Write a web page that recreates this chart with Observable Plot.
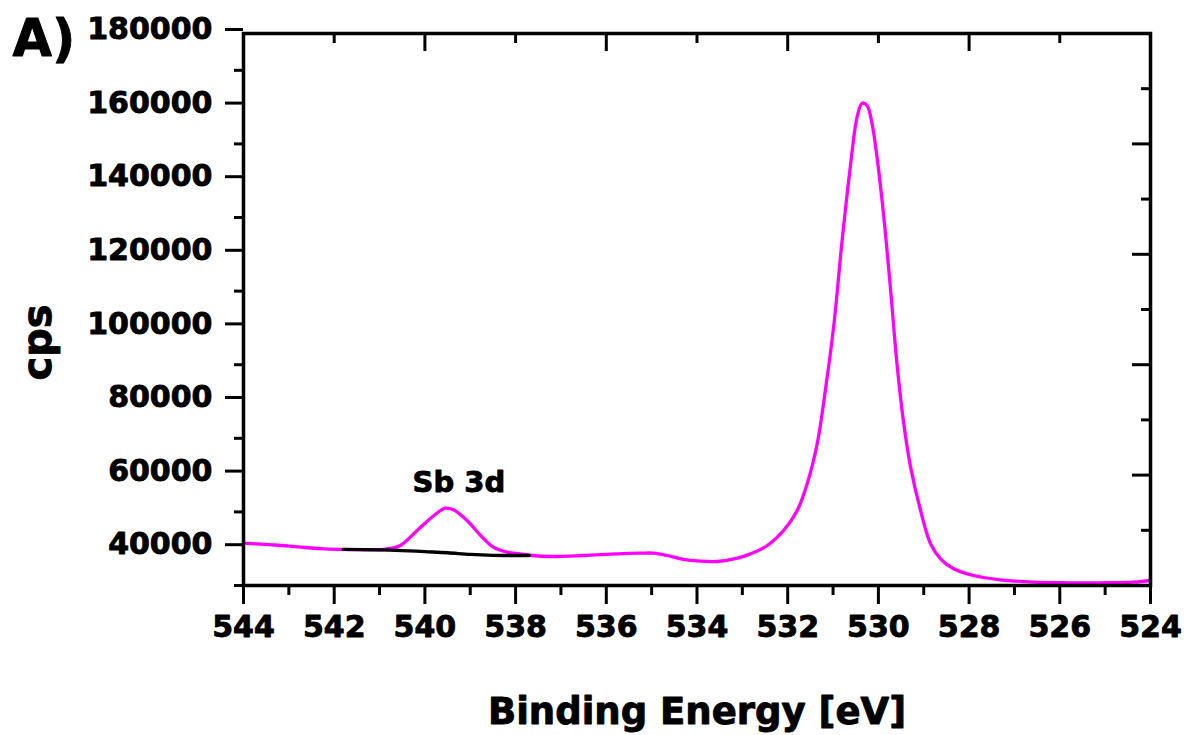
<!DOCTYPE html>
<html>
<head>
<meta charset="utf-8">
<script src="https://cdn.jsdelivr.net/npm/d3@7"></script>
<script src="https://cdn.jsdelivr.net/npm/@observablehq/plot@0.6"></script>
<style>
  html, body { margin: 0; padding: 0; background: #fff; }
  #chart text { stroke: #000; stroke-width: 0.9px; stroke-linejoin: round; }
</style>
</head>
<body>
<div id="chart"></div>
<script>
// O 1s spectrum (magenta) — binding energy [eV] and counts per second
const energy = [544.0, 543.7, 543.3, 542.8, 542.3, 541.9, 541.5, 541.0, 540.83, 540.54, 540.17, 539.8, 539.55, 539.37, 539.07, 538.77, 538.49, 538.19, 537.9, 537.63, 537.23, 536.5, 535.76, 535.25, 534.95, 534.66, 534.36, 533.92, 533.55, 533.11, 532.82, 532.45, 532.09, 531.79, 531.57, 531.35, 531.17, 530.98, 530.8, 530.62, 530.47, 530.36, 530.25, 530.14, 530.03, 529.88, 529.73, 529.59, 529.44, 529.29, 529.07, 528.85, 528.63, 528.34, 527.9, 527.31, 526.57, 525.84, 525.1, 524.37, 524.0];
const counts = [41500, 41300, 41000, 40500, 40000, 39800, 39750, 39700, 39970, 40870, 44950, 49020, 51000, 50570, 47660, 43590, 40410, 39050, 38600, 38150, 37880, 38150, 38600, 38780, 38780, 38150, 37250, 36600, 36520, 37420, 38600, 40870, 44950, 50380, 57640, 68500, 82990, 101100, 123750, 143670, 157260, 161060, 160430, 155470, 146390, 130080, 110160, 90240, 73940, 62150, 50380, 41330, 37250, 34540, 32720, 31550, 30900, 30730, 30730, 30900, 31360];

// Background under the Sb 3d peak (black)
const bgEnergy = [541.8, 541.0, 540.5, 540.0, 539.5, 539.0, 538.5, 537.7];
const bgCounts = [39800, 39700, 39500, 39200, 38900, 38450, 38200, 38150];

// Annotation
const annoText = ["Sb 3d"];
const annoEnergy = [539.25];
const annoCounts = [55300];

// Ticks
const xMajor = [544, 542, 540, 538, 536, 534, 532, 530, 528, 526, 524];
const xMinor = [543, 541, 539, 537, 535, 533, 531, 529, 527, 525];
const yMajor = [40000, 60000, 80000, 100000, 120000, 140000, 160000, 180000];
const yMinor = [30000, 50000, 70000, 90000, 110000, 130000, 150000, 170000];
const topMajor = [540, 536, 532, 528];
const topMinor = [542, 538, 534, 530, 526];
const rightMajor = [60000, 90000, 120000, 150000];
const rightMinor = [45000, 75000, 105000, 135000, 165000];

const xLabel = "Binding Energy [eV]";
const yLabel = "cps";
const panelLabel = "A)";

const W = 1189, H = 735;
const mL = 243, mR = 39, mT = 33, mB = 150;
const fw = W - mL - mR, fh = H - mT - mB;

const spectrum = energy.map((e, i) => ({e, v: counts[i]}));
const background = bgEnergy.map((e, i) => ({e, v: bgCounts[i]}));
const annos = annoText.map((t, i) => ({t, e: annoEnergy[i], v: annoCounts[i]}));

const ink = "#000";
const tw = 3;

const chart = Plot.plot({
  width: W,
  height: H,
  marginLeft: mL,
  marginRight: mR,
  marginTop: mT,
  marginBottom: mB,
  style: {fontFamily: "DejaVu Sans", fontWeight: "bold", fontSize: "30px", background: "#fff", color: ink, overflow: "visible"},
  x: {domain: [544, 524], label: null},
  y: {domain: [30000, 180000], label: null},
  marks: [
    Plot.line(spectrum, {x: "e", y: "v", stroke: "#ff00ff", strokeWidth: 3.3, curve: "catmull-rom"}),
    Plot.line(background, {x: "e", y: "v", stroke: "#000", strokeWidth: 3.3, curve: "catmull-rom"}),
    Plot.text(annos, {x: "e", y: "v", text: "t", fontSize: 29, fontWeight: "bold", textAnchor: "middle", lineAnchor: "bottom", fill: ink}),
    // left axis
    Plot.axisY({ticks: yMajor, tickSize: 18, tickPadding: 13, tickFormat: d => String(d), fontSize: 30, fontWeight: "bold", strokeWidth: tw, dy: -4, label: null}),
    Plot.tickY(yMinor, {y: d => d, insetLeft: -9, insetRight: fw, stroke: ink, strokeWidth: tw}),
    // bottom axis
    Plot.axisX({ticks: xMajor, tickSize: 19, tickPadding: 11, tickFormat: d => String(d), fontSize: 30, fontWeight: "bold", strokeWidth: tw, label: null}),
    Plot.tickX(xMinor, {x: d => d, insetTop: fh, insetBottom: -10, stroke: ink, strokeWidth: tw}),
    // top axis (inward)
    Plot.tickX(topMajor, {x: d => d, insetTop: 0, insetBottom: fh - 18, stroke: ink, strokeWidth: tw}),
    Plot.tickX(topMinor, {x: d => d, insetTop: 0, insetBottom: fh - 10, stroke: ink, strokeWidth: tw}),
    // right axis (inward)
    Plot.tickY(rightMajor, {y: d => d, insetLeft: fw - 18, insetRight: 0, stroke: ink, strokeWidth: tw}),
    Plot.tickY(rightMinor, {y: d => d, insetLeft: fw - 9, insetRight: 0, stroke: ink, strokeWidth: tw}),
    Plot.frame({stroke: ink, strokeWidth: 3.5}),
    // axis titles and panel label
    Plot.text([xLabel], {text: d => d, frameAnchor: "bottom", dy: 138, fontSize: 37, fontWeight: "bold", textAnchor: "middle", lineAnchor: "bottom", fill: ink}),
    Plot.text([yLabel], {text: d => d, frameAnchor: "left", dx: -193, dy: 33, rotate: -90, fontSize: 40, fontWeight: "bold", textAnchor: "middle", lineAnchor: "bottom", fill: ink}),
    Plot.text([panelLabel], {text: d => d, frameAnchor: "top-left", dx: -231, dy: 22, fontSize: 51, fontWeight: "bold", textAnchor: "start", lineAnchor: "bottom", fill: ink})
  ]
});

document.getElementById("chart").appendChild(chart);
</script>
</body>
</html>
